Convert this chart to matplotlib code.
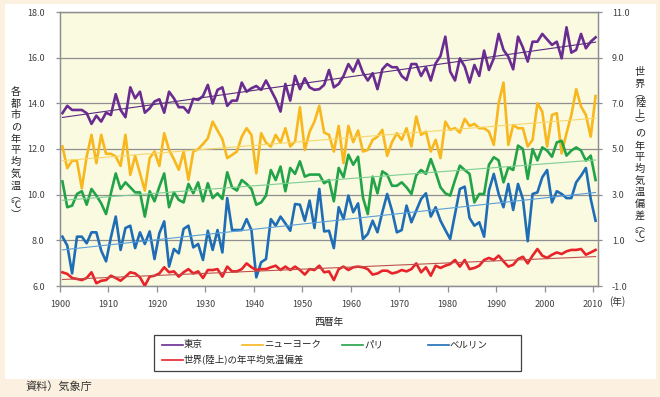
import matplotlib
matplotlib.use('Agg')
import matplotlib.pyplot as plt
import numpy as np
from matplotlib.patches import Rectangle
from matplotlib.lines import Line2D
from matplotlib.ticker import FormatStrFormatter

plt.rcParams['font.family'] = ['Noto Sans CJK JP', 'DejaVu Sans']

# data
years = np.arange(1900, 2011)

tokyo = [13.57, 13.89, 13.71, 13.71, 13.71, 13.57, 13.10, 13.46, 13.20, 13.59,
         13.49, 14.40, 13.71, 13.39, 14.70, 14.22, 14.51, 13.59, 13.78, 14.08,
         14.18, 13.59, 14.51, 14.22, 13.83, 13.83, 13.59, 14.20, 14.15, 14.32,
         14.81, 13.99, 14.59, 14.70, 13.89, 14.12, 14.12, 14.91, 14.51, 14.66,
         14.76, 14.59, 15.00, 14.59, 14.18, 13.64, 14.85, 14.12, 15.20, 14.62,
         15.10, 14.70, 14.59, 14.62, 14.81, 15.46, 14.70, 14.85, 15.20, 15.72,
         15.39, 15.90, 15.34, 15.00, 15.32, 14.62, 15.49, 15.72, 15.58, 15.58,
         15.20, 15.02, 15.72, 15.72, 15.20, 15.58, 15.00, 15.75, 16.07, 16.92,
         15.39, 15.00, 15.97, 15.61, 14.91, 15.68, 15.20, 16.31, 15.46, 15.97,
         17.04, 16.34, 16.04, 15.49, 16.92, 16.45, 15.83, 16.70, 16.70, 17.04,
         16.80, 16.56, 16.70, 15.97, 17.33, 16.22, 16.34, 17.04, 16.41, 16.70, 16.89]

newyork = [12.11, 11.16, 11.49, 11.48, 10.28, 11.67, 12.62, 11.38, 12.62, 11.79,
           11.79, 11.67, 11.26, 12.62, 10.87, 11.70, 10.94, 10.18, 11.60, 11.89,
           11.26, 12.69, 11.96, 11.55, 11.09, 11.89, 10.65, 11.89, 11.99, 12.22,
           12.47, 13.20, 12.81, 12.43, 11.60, 11.74, 11.89, 12.54, 12.91, 12.62,
           10.94, 12.69, 12.28, 12.11, 12.62, 12.28, 12.91, 12.11, 12.33, 13.83,
           11.96, 12.76, 13.20, 13.89, 12.72, 12.62, 11.89, 13.01, 11.38, 13.01,
           12.30, 12.81, 11.89, 11.96, 12.40, 12.54, 12.84, 11.70, 12.30, 12.69,
           12.40, 12.91, 12.11, 13.42, 12.62, 12.76, 11.89, 12.40, 11.60, 13.20,
           12.84, 12.91, 12.72, 13.32, 13.01, 13.10, 12.91, 12.91, 12.76, 12.18,
           14.00, 14.91, 12.18, 13.05, 12.91, 12.91, 12.11, 12.40, 14.00, 13.64,
           12.11, 13.49, 13.57, 11.81, 12.69, 13.49, 14.62, 13.86, 13.49, 12.54, 14.32]

paris = [10.58, 9.45, 9.52, 10.03, 10.15, 9.56, 10.25, 9.96, 9.62, 9.15,
         10.06, 10.93, 10.25, 10.54, 10.32, 10.10, 10.10, 9.04, 10.15, 9.71,
         10.35, 10.93, 9.45, 10.10, 9.77, 9.66, 10.47, 10.06, 10.54, 9.71,
         10.50, 9.85, 10.06, 9.81, 10.98, 10.32, 10.18, 10.64, 10.47, 10.25,
         9.56, 9.66, 9.96, 11.08, 10.64, 11.23, 10.15, 11.17, 10.91, 11.46,
         10.79, 10.88, 10.88, 10.88, 10.50, 10.64, 9.71, 11.17, 10.76, 11.75,
         11.31, 11.66, 9.88, 9.15, 10.79, 10.06, 11.02, 10.88, 10.39, 10.39,
         10.54, 10.32, 10.03, 10.85, 11.08, 10.91, 11.56, 10.98, 10.32, 10.06,
         9.96, 10.64, 11.27, 11.08, 10.91, 9.66, 10.03, 10.03, 11.31, 11.64,
         11.50, 10.54, 11.20, 11.08, 12.15, 12.00, 10.69, 12.00, 11.50, 12.07,
         11.93, 11.66, 12.29, 12.36, 11.71, 11.93, 12.07, 11.93, 11.49, 11.71, 10.64]

berlin = [8.16, 7.77, 6.55, 8.16, 8.16, 7.87, 8.35, 8.35, 7.55, 7.08,
          8.13, 9.04, 7.58, 8.54, 8.64, 7.66, 8.35, 7.84, 8.39, 7.18,
          8.31, 8.83, 6.85, 7.62, 7.43, 8.50, 8.64, 7.69, 7.84, 7.14,
          8.42, 7.58, 8.45, 7.47, 9.85, 8.45, 8.45, 8.45, 8.93, 8.45,
          6.38, 7.04, 7.18, 8.93, 8.64, 9.04, 8.74, 8.42, 9.59, 9.56,
          8.86, 9.74, 8.54, 10.25, 8.39, 8.42, 7.66, 9.45, 8.93, 9.96,
          9.23, 9.62, 8.06, 8.28, 8.86, 8.35, 9.23, 10.03, 9.30, 8.35,
          8.45, 9.52, 8.79, 9.30, 9.81, 10.06, 9.04, 9.45, 8.86, 8.45,
          8.06, 9.15, 10.25, 10.35, 8.98, 8.64, 8.79, 8.16, 10.18, 10.91,
          10.03, 9.45, 10.47, 9.33, 10.47, 9.81, 7.96, 10.03, 10.10, 10.76,
          11.08, 9.66, 10.15, 10.03, 9.85, 9.85, 10.54, 10.83, 11.17, 9.81, 8.86]

# world land temperature anomaly (right axis)
world = [-0.40, -0.47, -0.65, -0.69, -0.74, -0.65, -0.40, -0.88, -0.77, -0.74,
         -0.55, -0.65, -0.77, -0.59, -0.40, -0.45, -0.62, -0.99, -0.59, -0.55,
         -0.45, -0.18, -0.40, -0.36, -0.59, -0.40, -0.26, -0.45, -0.36, -0.65,
         -0.30, -0.30, -0.26, -0.59, -0.15, -0.36, -0.36, -0.26, -0.01, -0.18,
         -0.30, -0.26, -0.26, -0.18, -0.11, -0.30, -0.15, -0.30, -0.15, -0.30,
         -0.50, -0.26, -0.30, -0.11, -0.40, -0.36, -0.74, -0.26, -0.15, -0.30,
         -0.18, -0.15, -0.18, -0.26, -0.50, -0.45, -0.33, -0.33, -0.45, -0.40,
         -0.30, -0.36, -0.26, -0.01, -0.40, -0.18, -0.55, -0.11, -0.21, -0.11,
         -0.04, 0.14, -0.15, 0.14, -0.26, -0.21, -0.11, 0.14, 0.23, 0.14,
         0.33, 0.08, -0.15, -0.07, 0.18, 0.28, -0.01, 0.33, 0.62, 0.33,
         0.23, 0.37, 0.47, 0.40, 0.52, 0.58, 0.58, 0.62, 0.37, 0.47, 0.58]

names = ['東京', 'ニューヨーク', 'パリ', 'ベルリン']
world_name = '世界(陸上)の年平均気温偏差'

colors = ['#6a2c91', '#f7b71d', '#23a347', '#1f6db5']
trend_colors = ['#5b2a80', '#f8d66a', '#7ccf93', '#5a9fd8']
red, red_trend = '#e8232a', '#c0504d'

W, H = 660, 397
def fx(px):
    return px / W
def fy(py):
    return 1 - py / H

fig = plt.figure(figsize=(6.6, 3.97), dpi=100, facecolor='#fcf1e1')
fig.patches.append(Rectangle((fx(5), fy(379)), fx(656) - fx(5), fy(4) - fy(379),
                             transform=fig.transFigure, facecolor='white',
                             edgecolor='none', zorder=-5))

ax = fig.add_axes([fx(60), fy(286), fx(598) - fx(60), fy(12) - fy(286)])
ax.set_facecolor('#fafae1')
ax2 = ax.twinx()

x = years + 0.5
for vals, c in zip([tokyo, newyork, paris, berlin], colors):
    ax.plot(x, vals, color=c, lw=1.9, zorder=3, solid_joinstyle='round')
for vals, tc in zip([tokyo, newyork, paris, berlin], trend_colors):
    k = np.polyfit(years, vals, 1)
    ax.plot(x, np.polyval(k, years), color=tc, lw=0.8, zorder=4)

ax2.plot(x, world, color=red, lw=1.9, zorder=3, solid_joinstyle='round')
k = np.polyfit(years, world, 1)
ax2.plot(x, np.polyval(k, years), color=red_trend, lw=0.8, zorder=4)

grid_c = '#8f8f8f'
ax.set_xlim(1900, 2011)
ax.set_ylim(6, 18)
ax2.set_ylim(-1, 11)
ax.set_yticks(np.arange(6, 18.1, 2))
ax2.set_yticks(np.arange(-1, 11.1, 2))
ax.set_xticks(np.arange(1900, 2011, 10))
ax.yaxis.set_major_formatter(FormatStrFormatter('%.1f'))
ax2.yaxis.set_major_formatter(FormatStrFormatter('%.1f'))
ax.grid(axis='y', color=grid_c, lw=0.9)
ax.set_axisbelow(True)
for a in (ax, ax2):
    for s in a.spines.values():
        s.set_color(grid_c)
        s.set_linewidth(0.9)
ax.tick_params(axis='y', direction='out', length=3, color=grid_c, width=0.9,
               labelsize=6.5, labelcolor='#404040', pad=8)
ax2.tick_params(axis='y', direction='out', length=3, color=grid_c, width=0.9,
                labelsize=6.5, labelcolor='#404040', pad=7)
ax.tick_params(axis='x', direction='out', length=4, color=grid_c, width=0.9,
               labelsize=6.5, labelcolor='#404040', pad=6)

fig.text(fx(617), fy(302), '(年)', fontsize=7, color='#333333', ha='center', va='center')
fig.text(fx(329), fy(322), '西暦年', fontsize=7, color='#222222', ha='center', va='center')

# vertical axis titles, one character per line
def vtext(chars, px, py0):
    py = py0
    for ch in chars:
        small = ch in '︵︶'
        if small:
            py -= 1.5
        fig.text(fx(px), fy(py), ch, fontsize=7.3, color='#222222', ha='center', va='center')
        py += 9 if small else 11.7

vtext('各都市の年平均気温︵℃︶', 16, 92)
vtext('世界︵陸上︶の年平均気温偏差︵℃︶', 640, 72)

# legend
fig.patches.append(Rectangle((fx(154), fy(371)), fx(521) - fx(154), fy(335) - fy(371),
                             transform=fig.transFigure, facecolor='white',
                             edgecolor='#404040', lw=0.9, zorder=2))
leg_x = [162, 242, 342, 428]
for lx, c, name in zip(leg_x, colors, names):
    fig.lines.append(Line2D([fx(lx), fx(lx + 21)], [fy(344.5), fy(344.5)],
                            transform=fig.transFigure, color=c, lw=1.2, zorder=3))
    fig.text(fx(lx + 22), fy(344.5), name, fontsize=6.8, color='#222222', va='center', zorder=3)
fig.lines.append(Line2D([fx(162), fx(183)], [fy(360), fy(360)],
                        transform=fig.transFigure, color=red, lw=1.2, zorder=3))
fig.text(fx(184), fy(360), world_name, fontsize=6.8, color='#222222', va='center', zorder=3)

fig.text(fx(25), fy(387), '資料）気象庁', fontsize=8, color='#333333', va='center')

fig.savefig('out.png', dpi=100, facecolor=fig.get_facecolor())
